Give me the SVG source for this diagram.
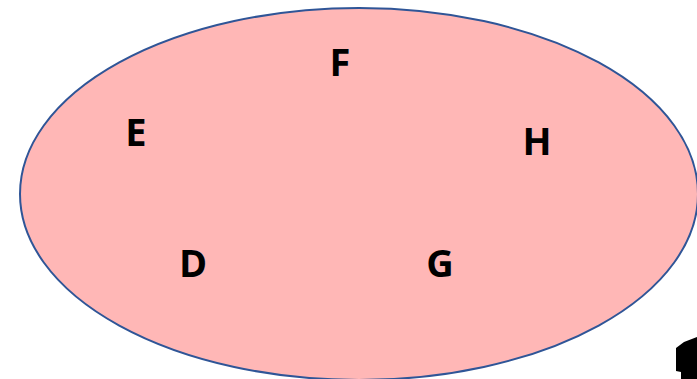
<svg xmlns="http://www.w3.org/2000/svg" width="697" height="379" viewBox="0 0 697 379">
  <style>
    .lbl { font-family: "Open Sans", "Liberation Sans", sans-serif; font-weight: 700; font-size: 38px; fill: #000; text-anchor: middle; dominant-baseline: central; }
  </style>
  <rect width="697" height="379" fill="#ffffff"/>
  <g id="set">
    <ellipse cx="359" cy="194" rx="339" ry="186" fill="#ffb7b6" stroke="#2f5597" stroke-width="2"/>
  </g>
  <g id="node-E"><text class="lbl" x="136" y="131">E</text></g>
  <g id="node-F"><text class="lbl" x="340" y="61">F</text></g>
  <g id="node-H"><text class="lbl" x="537" y="140">H</text></g>
  <g id="node-D"><text class="lbl" x="193" y="262">D</text></g>
  <g id="node-G"><text class="lbl" x="440" y="262">G</text></g>
  <g id="connectors"></g>
  <g id="corner-shape">
    <polygon points="676,348 684,342 697,337 697,379 681,379 681,372 676,371" fill="#000"/>
  </g>
</svg>
